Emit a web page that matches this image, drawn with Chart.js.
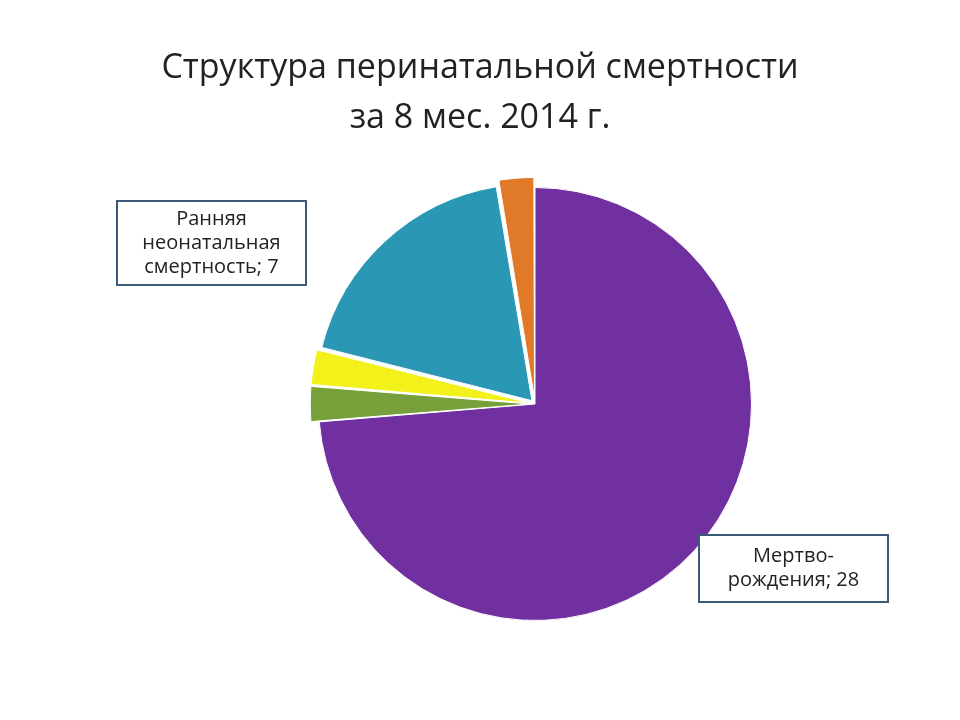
<!DOCTYPE html>
<html>
<head>
<meta charset="utf-8">
<script src="https://cdn.jsdelivr.net/npm/chart.js@4"></script>
<style>
  html, body { margin:0; padding:0; background:#fff; }
  #wrap { width:960px; height:720px; }
</style>
</head>
<body>
<div id="wrap"><canvas id="c" width="960" height="720"></canvas></div>
<script>
// данные
const categories = ['Мертво-рождения', 'Прочее 1', 'Прочее 2', 'Ранняя неонатальная смертность', 'Прочее 3'];
const values = [28, 1, 1, 7, 1];
const colors = ['#7030a0', '#77a03a', '#f2f21a', '#2a98b4', '#e07a28'];
const offsets = [0, 18, 18, 18, 22];

// заголовок и подписи в рамках
const overlay = {
  id: 'overlay',
  afterDraw(chart) {
    const ctx = chart.ctx;
    ctx.save();
    ctx.fillStyle = '#222';
    ctx.font = '34px "Open Sans", "Liberation Sans", sans-serif';
    ctx.textAlign = 'center';
    ctx.textBaseline = 'middle';
    ctx.fillText('Структура перинатальной смертности', 480, 68);
    ctx.fillText('за 8 мес. 2014 г.', 480, 118);

    const box = (x, y, w, h, lines) => {
      ctx.fillStyle = '#fff';
      ctx.fillRect(x, y, w, h);
      ctx.strokeStyle = '#3b5a78';
      ctx.lineWidth = 2;
      ctx.strokeRect(x, y, w, h);
      ctx.fillStyle = '#222';
      ctx.font = '20px "Open Sans", "Liberation Sans", sans-serif';
      const lh = 24, top = y + h / 2 - (lines.length - 1) * lh / 2;
      lines.forEach((t, i) => ctx.fillText(t, x + w / 2, top + i * lh));
    };
    box(117, 201, 189, 84, ['Ранняя', 'неонатальная', 'смертность; ' + values[3]]);
    box(699, 535, 189, 67, ['Мертво-', 'рождения; ' + values[0]]);
    ctx.restore();
  }
};

new Chart(document.getElementById('c'), {
  type: 'pie',
  data: {
    labels: categories,
    datasets: [{
      data: values,
      backgroundColor: colors,
      borderColor: '#fff',
      borderWidth: 1,
      offset: offsets
    }]
  },
  options: {
    responsive: false,
    animation: false,
    layout: { padding: { top: 176, bottom: 88, left: 301, right: 191 } },
    plugins: {
      legend: { display: false },
      tooltip: { enabled: false },
      title: { display: false }
    }
  },
  plugins: [overlay]
});
</script>
</body>
</html>
